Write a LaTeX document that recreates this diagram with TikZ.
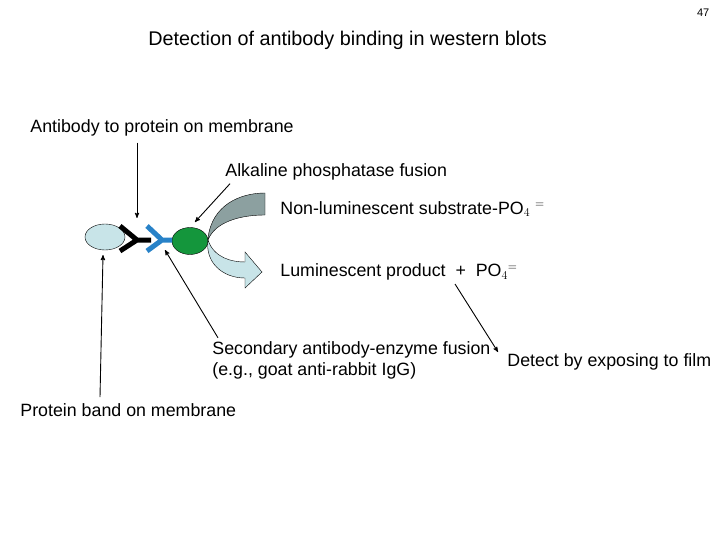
\documentclass[tikz,border=0pt]{standalone}
\usepackage{fontspec}
\setmainfont{Liberation Sans}
\usetikzlibrary{arrows,shapes.geometric}
\definecolor{lblue}{RGB}{200,228,232}
\definecolor{dgreen}{RGB}{20,150,60}
\definecolor{ygblue}{RGB}{40,130,200}
\definecolor{bgrey}{RGB}{140,160,160}
\begin{document}
\begin{tikzpicture}[x=1pt,y=-1pt,->,>=stealth',thick,
main node/.style={font=\fontsize{17.8}{21}\selectfont,anchor=west,inner sep=0pt},
pointer/.style={->,>=stealth',line width=0.9pt}]
\useasboundingbox (0,0) rectangle (720,540);

\node[font=\fontsize{11}{12}\selectfont,anchor=east] (page) at (713,13) {47};
\node[main node,font=\fontsize{19.8}{23}\selectfont] (title) at (148,40) {Detection of antibody binding in western blots};
\node[main node] (ab) at (30,128) {Antibody to protein on membrane};
\node[main node] (ap) at (225,172) {Alkaline phosphatase fusion};
\node[main node] (sub) at (280,209) {Non-luminescent substrate-PO$_4$ $^=$};
\node[main node] (lum) at (280,272) {Luminescent product \ + \ PO$_4$$^=$};
\node[main node,align=left] (sec) at (212,360) {Secondary antibody-enzyme fusion\\(e.g., goat anti-rabbit IgG)};
\node[main node] (film) at (507,362) {Detect by exposing to film};
\node[main node] (band) at (20,410) {Protein band on membrane};

% blot pieces
\node[draw,-,thin,fill=lblue,ellipse,minimum width=40,minimum height=26] (prot) at (105,237) {};
\node[draw,-,thin,fill=dgreen,ellipse,minimum width=36,minimum height=27] (enz) at (190,241) {};
\draw[-,line width=5pt] (120,226) -- (137,240) -- (120,251) (137,240) -- (151,240);
\draw[-,line width=5pt,ygblue] (147,226) -- (162,240) -- (147,251) (162,240) -- (172,240);
\draw[-,thin,fill=bgrey] (208,238) .. controls (212,205) and (240,193) .. (265,193)
  -- (265,215) .. controls (240,215) and (215,222) .. (208,240) -- cycle;
\draw[-,thin,fill=lblue] (208,240) .. controls (214,258) and (232,262) .. (245,262)
  -- (245,252) -- (262,272) -- (245,288) -- (245,278)
  .. controls (222,278) and (205,262) .. (208,240) -- cycle;

% pointers
\coordinate (p1) at (137,218);
\coordinate (p2) at (103,255);
\coordinate (p3) at (195,222);
\coordinate (p4) at (165,250);
\coordinate (p5) at (498,352);
\draw[pointer] (ab.south -| p1) ++(0,6) -- (p1);
\draw[pointer] (band.north -| 100,0) ++(0,-6) -- (p2);
\draw[pointer] (ap.south west) ++(5,3) -- (p3);
\draw[pointer] (sec.north west) ++(6,-3) -- (p4);
\draw[pointer] (455,284) -- (p5);
\end{tikzpicture}
\end{document}
